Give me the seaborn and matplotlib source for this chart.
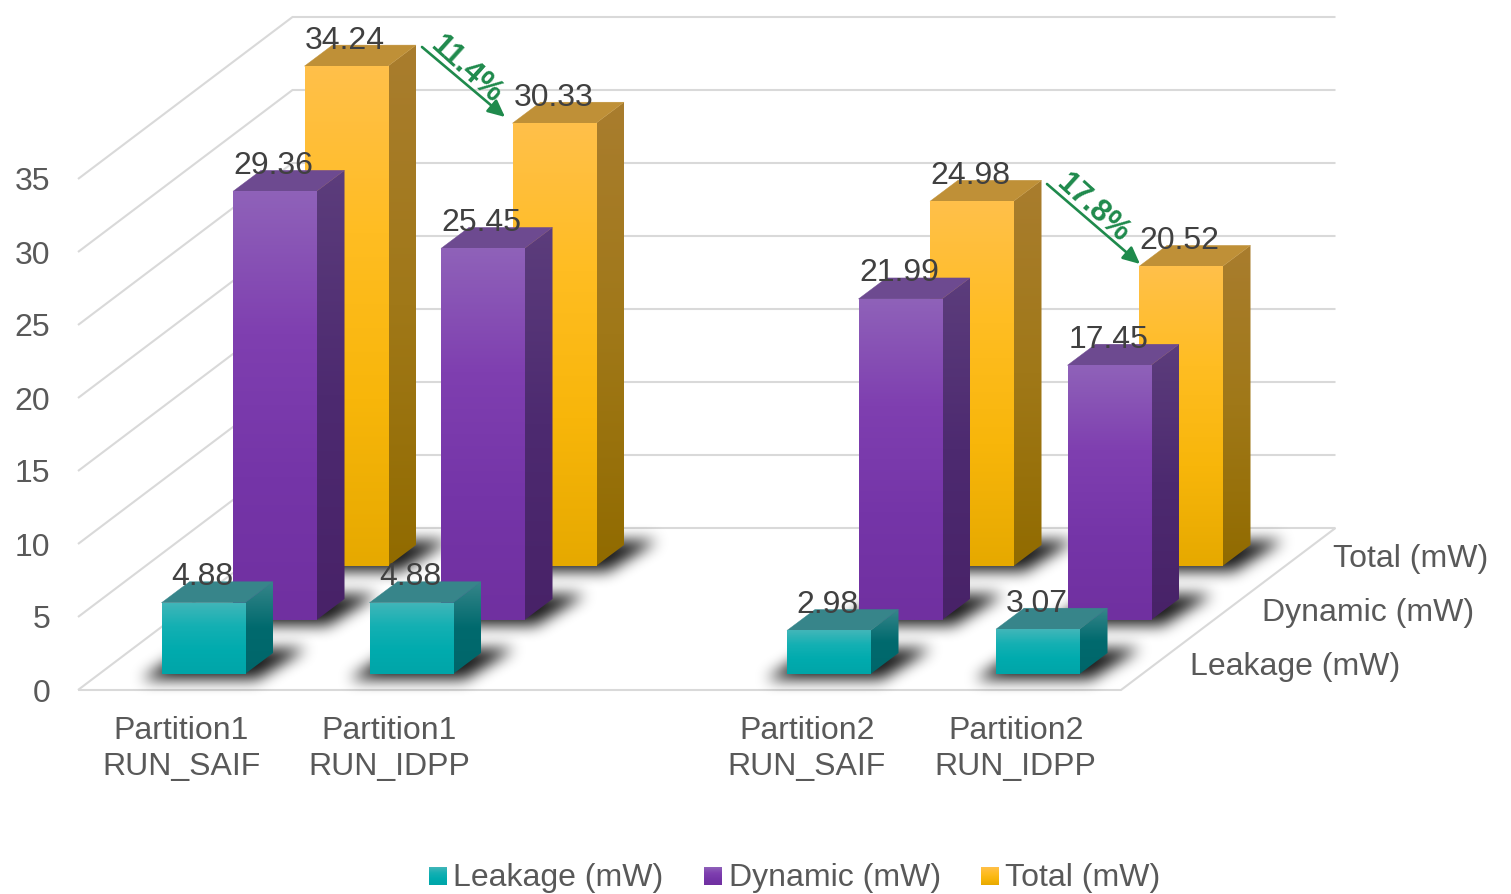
import numpy as np
import pandas as pd
import matplotlib
matplotlib.use("Agg")
import matplotlib.pyplot as plt
from matplotlib.colors import to_rgb
from matplotlib.patches import Polygon
from matplotlib.path import Path
import seaborn as sns

# Chart values
partitions = ["Partition1\nRUN_SAIF", "Partition1\nRUN_IDPP", "Partition2\nRUN_SAIF", "Partition2\nRUN_IDPP"]
leakage = [4.88, 4.88, 2.98, 3.07]
dynamic = [29.36, 25.45, 21.99, 17.45]
total = [34.24, 30.33, 24.98, 20.52]
series_names = ["Leakage (mW)", "Dynamic (mW)", "Total (mW)"]
y_ticks = [0, 5, 10, 15, 20, 25, 30, 35]
savings = ["11.4%", "17.8%"]

# Layout of the oblique projection, in pixels
W, H = 1511, 894
FLOOR_Y = 690
PX_PER_UNIT = 14.6
ROW_DX, ROW_DY = 71.5, 54
BAR_DX, BAR_DY = 28, 21
BAR_W = 83.5
BAR_LIFT = 16
GROUP_X = [203.25, 411.25, 828.75, 1037.75]
FLOOR_L, FLOOR_R = 78, 1121
TEXT_DROP = 3.5 / PX_PER_UNIT

TEXT = "#595959"
LABEL = "#404040"
GRID = "#d9d9d9"
GREEN = "#1f8a4c"

# front gradient, side gradient and top colour per series
STYLE = {
    "Leakage (mW)": (["#42b6b9", "#14b0b3", "#00abae", "#00a5a8"], ["#37868a", "#006a6e", "#00666a"], "#37858a"),
    "Dynamic (mW)": (["#8f62b9", "#7f3fb0", "#7535a8", "#7030a0"], ["#5c3d7c", "#4d2a70", "#482268"], "#6d4a90"),
    "Total (mW)": (["#ffc04a", "#ffbd22", "#f8b60a", "#e6a900"], ["#a97d2e", "#a07818", "#916b00"], "#bf9037"),
}


def val(py):
    """Convert a pixel row into the value scale of the axes."""
    return (FLOOR_Y - py) / PX_PER_UNIT


sns.set_theme(style="white")
plt.rcParams["font.family"] = ["Liberation Sans", "DejaVu Sans"]

fig = plt.figure(figsize=(W / 100, H / 100), dpi=100)
ax = fig.add_axes([0, 0, 1, 1])
ax.set_facecolor("white")
zorder = [3.0]


def next_z():
    zorder[0] += 0.01
    return zorder[0]


def gradient(colors, x0, x1, y0, y1, clip, n=256):
    """Vertical gradient between value rows y0 (bottom) and y1 (top), clipped to a patch."""
    cols = np.array([to_rgb(c) for c in colors])
    t = np.linspace(0, 1, n)
    stops = np.linspace(0, 1, len(colors))
    img = np.stack([np.interp(t, stops, cols[:, i]) for i in range(3)], axis=1)[:, None, :]
    im = ax.imshow(img, extent=[x0, x1, y0, y1], origin="upper", aspect="auto",
                   interpolation="bilinear", zorder=next_z())
    im.set_clip_path(clip)


def blur(mask, size):
    kernel = np.ones(size) / size
    for _ in range(3):
        mask = np.apply_along_axis(lambda r: np.convolve(r, kernel, mode="same"), 0, mask)
        mask = np.apply_along_axis(lambda r: np.convolve(r, kernel, mode="same"), 1, mask)
    return mask


def shadow(x0, base):
    """Soft cast shadow on the floor, leaning back to the right of the bar."""
    x1 = x0 + BAR_W
    px = np.arange(x0 - 90, x1 + 140)
    py = np.arange(-70, 50)
    gx, gy = np.meshgrid(px, py)
    pts = np.column_stack([gx.ravel(), gy.ravel()])
    poly = [(x0 - 22, 3), (x1 + 10, 3), (x1 + 60, -28), (x0 + 24, -28)]
    mask = Path(poly).contains_points(pts).reshape(gx.shape).astype(float)
    mask = blur(mask, 14)
    rgba = np.zeros(mask.shape + (4,))
    rgba[..., 3] = np.clip(mask * 0.9, 0, 1)
    base_px = FLOOR_Y - base * PX_PER_UNIT
    ax.imshow(rgba, extent=[px[0], px[-1] + 1, val(base_px + py[-1] + 1), val(base_px + py[0])],
              origin="upper", aspect="auto", interpolation="bilinear", zorder=next_z())


# Floor and wall gridlines
back_l = FLOOR_L + 3 * ROW_DX
back_r = FLOOR_R + 3 * ROW_DX
depth = 3 * ROW_DY / PX_PER_UNIT
grid_kw = dict(color=GRID, lw=1.5, zorder=1, solid_capstyle="butt")
ax.plot([FLOOR_L, FLOOR_R, back_r], [0, 0, depth], **grid_kw)
for tick in y_ticks:
    ax.plot([FLOOR_L, back_l, back_r], [tick, tick + depth, tick + depth], **grid_kw)

# Bars, furthest row first
rows = {"Leakage (mW)": (0, leakage), "Dynamic (mW)": (1, dynamic), "Total (mW)": (2, total)}
label_args = []
for name in reversed(series_names):
    row, values = rows[name]
    front, side, top = STYLE[name]
    frame = pd.DataFrame({"pos": [g + row * ROW_DX for g in GROUP_X], "value": values})
    before = len(ax.patches)
    sns.barplot(data=frame, x="pos", y="value", native_scale=True, errorbar=None, ax=ax,
                width=BAR_W / (GROUP_X[1] - GROUP_X[0]), color=front[0], legend=False)
    bars = list(ax.patches)[before:]
    base = (BAR_LIFT + row * ROW_DY) / PX_PER_UNIT
    dy = BAR_DY / PX_PER_UNIT

    for bar, value in zip(bars, values):
        x0, w = bar.get_x(), bar.get_width()
        x1 = x0 + w
        shadow(x0, base)

        # side face
        side_poly = Polygon([(x1, base), (x1 + BAR_DX, base + dy), (x1 + BAR_DX, base + value + dy),
                             (x1, base + value)], closed=True, fc="none", ec="none", transform=ax.transData)
        ax.add_patch(side_poly)
        gradient(side, x1, x1 + BAR_DX, base, base + value + dy, side_poly)

        # top face
        ax.add_patch(Polygon([(x0, base + value), (x1, base + value), (x1 + BAR_DX, base + value + dy),
                              (x0 + BAR_DX, base + value + dy)], closed=True, fc=top,
                             ec=top, lw=0.3, zorder=next_z()))

        # front face: the bar drawn by seaborn, lifted to its row and filled with a gradient
        bar.set_y(base)
        bar.set_facecolor("none")
        bar.set_edgecolor("none")
        gradient(front, x0, x1, base, base + value, bar)

        label_args.append((x0 + w / 2 - 1, base + value + 29 / PX_PER_UNIT - TEXT_DROP, f"{value:.2f}"))

for x, y, text in label_args:
    ax.text(x, y, text, ha="center", va="center", fontsize=23, color=LABEL, zorder=20)

# Value axis labels
for tick in y_ticks:
    ax.text(50, tick - TEXT_DROP, str(tick), ha="right", va="center", fontsize=23, color=TEXT, zorder=20)

# Category labels under the floor
for gx, label in zip(GROUP_X, partitions):
    ax.text(gx - 22, val(749), label, ha="center", va="center", fontsize=23, color=TEXT,
            linespacing=1.3, zorder=20)

# Series labels along the right edge of the floor
for name, (lx, ly) in zip(series_names, [(1190, 667), (1262, 613), (1333, 559)]):
    ax.text(lx, val(ly), name, ha="left", va="center", fontsize=23, color=TEXT, zorder=20)

# Reduction arrows between the two runs of each partition
arrows = [((422, 47), (505, 117), (466, 70), -42), ((1047, 184), (1140, 264), (1093, 208), -42)]
for text, (start, end, centre, angle) in zip(savings, arrows):
    ax.annotate("", xy=(end[0], val(end[1])), xytext=(start[0], val(start[1])), zorder=21,
                arrowprops=dict(arrowstyle="-|>,head_length=0.85,head_width=0.4", color=GREEN, lw=1.9,
                                shrinkA=0, shrinkB=0))
    ax.text(centre[0], val(centre[1]), text, rotation=angle, rotation_mode="anchor", ha="center",
            va="center", fontsize=22, fontweight="bold", color=GREEN, zorder=21)

# Legend with gradient swatches
for name, sx, tx in zip(series_names, [429, 704, 981], [453, 729, 1005]):
    swatch = Polygon([(sx, val(885)), (sx + 18, val(885)), (sx + 18, val(867)), (sx, val(867))],
                     closed=True, fc="none", ec="none", transform=ax.transData)
    ax.add_patch(swatch)
    gradient(STYLE[name][0], sx, sx + 18, val(885), val(867), swatch)
    ax.text(tx, val(878), name, ha="left", va="center", fontsize=23, color=TEXT, zorder=20)

ax.set_xlim(0, W)
ax.set_ylim(val(H), val(0))
ax.set_xlabel("")
ax.set_ylabel("")
ax.set_xticks([])
ax.set_yticks([])
sns.despine(ax=ax, left=True, bottom=True)
ax.grid(False)

fig.savefig("out.png", dpi=100, facecolor="white")
